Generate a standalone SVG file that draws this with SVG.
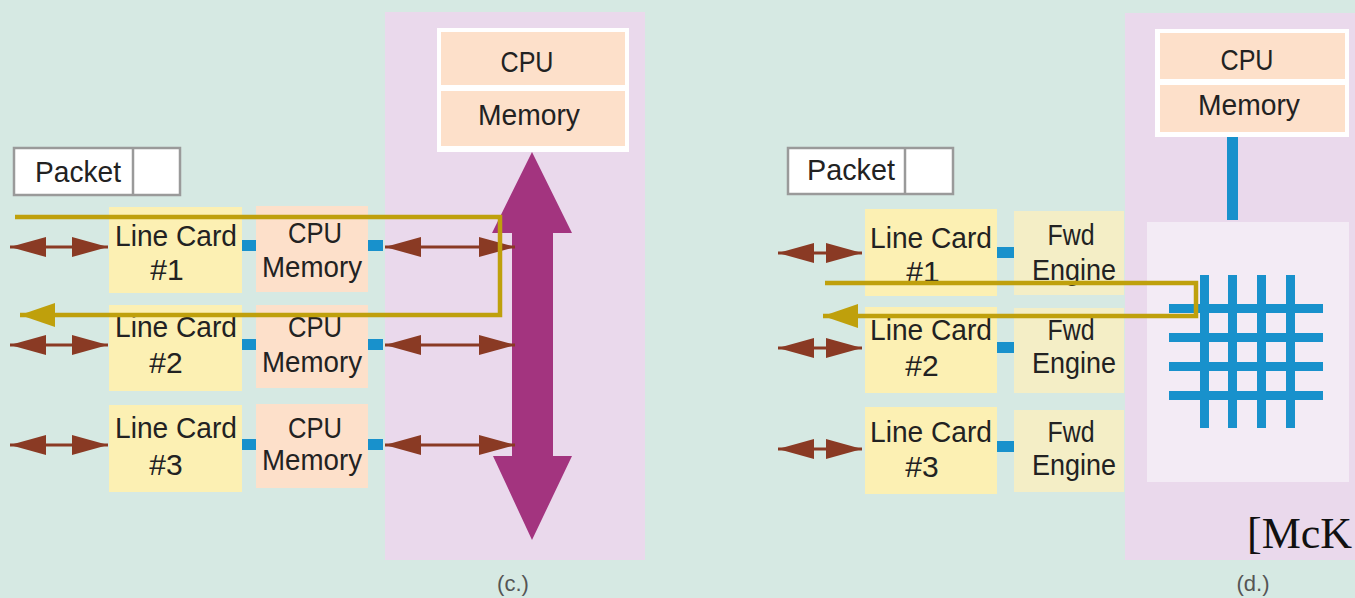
<svg xmlns="http://www.w3.org/2000/svg" width="1355" height="598" viewBox="0 0 1355 598">
  <style>
    .bg { fill: #d6e9e3; }
    .panel { fill: #ead9ec; }
    .fabric { fill: #f3ebf5; }
    .cpuframe { fill: #ffffff; }
    .peach { fill: #fde0ca; }
    .card { fill: #fcf0b3; }
    .fwd { fill: #f4eec6; }
    .port { fill: #1891cc; }
    .pkt { fill: #ffffff; stroke: #9a9a9a; stroke-width: 2.5; }
    .lbl { font-family: "Liberation Sans", Arial, sans-serif; font-size: 30px; fill: #222; text-anchor: middle; }
    .cap { font-family: "Liberation Sans", Arial, sans-serif; font-size: 22px; fill: #555; text-anchor: middle; }
    .cite { font-family: "Liberation Serif", "Times New Roman", serif; font-size: 44px; fill: #111; }
    .io { stroke: #8a3a24; stroke-width: 3; fill: none; marker-start: url(#brownHead); marker-end: url(#brownHead); }
    .path { stroke: #bfa00c; stroke-width: 4.5; fill: none; stroke-linejoin: miter; marker-end: url(#goldHead); }
    .xbar { fill: #1891cc; }
  </style>
  <defs>
    <marker id="brownHead" viewBox="0 0 36 20" refX="36" refY="10" markerWidth="36" markerHeight="20" markerUnits="userSpaceOnUse" orient="auto-start-reverse">
      <path d="M0,0 L36,10 L0,20 Z" fill="#8a3a24"/>
    </marker>
    <marker id="goldHead" viewBox="0 0 35 24" refX="35" refY="12" markerWidth="35" markerHeight="24" markerUnits="userSpaceOnUse" orient="auto">
      <path d="M0,0 L35,12 L0,24 Z" fill="#bfa00c"/>
    </marker>
  </defs>

  <rect class="bg" x="0" y="0" width="1355" height="598"/>

  <!-- ===== (c.) shared-bus router ===== -->
  <g id="bus-panel">
    <rect class="panel" x="385" y="12" width="260" height="548"/>
  </g>

  <g id="central-cpu-c">
    <rect class="cpuframe" x="437" y="28" width="192" height="124"/>
    <rect class="peach" x="441" y="32" width="184" height="53"/>
    <rect class="peach" x="441" y="91" width="184" height="55"/>
    <text class="lbl" x="527" y="72" textLength="53" lengthAdjust="spacingAndGlyphs">CPU</text>
    <text class="lbl" x="529" y="125" textLength="102" lengthAdjust="spacingAndGlyphs">Memory</text>
  </g>

  <g id="bus-c">
    <polygon fill="#a3347f" points="532,152 572,233 553,233 553,456 572,456 532,540 493,456 512,456 512,233 492,233"/>
  </g>

  <g id="packet-c">
    <rect class="pkt" x="14" y="148" width="166" height="47"/>
    <line x1="133" y1="148" x2="133" y2="195" stroke="#9a9a9a" stroke-width="2.5"/>
    <text class="lbl" x="78" y="182" textLength="86" lengthAdjust="spacingAndGlyphs">Packet</text>
  </g>

  <g id="linecard-c1">
    <rect class="card" x="109" y="207" width="133" height="86"/>
    <text class="lbl" x="176" y="246" textLength="122" lengthAdjust="spacingAndGlyphs">Line Card</text>
    <text class="lbl" x="167" y="280">#1</text>
  </g>
  <g id="linecard-c2">
    <rect class="card" x="109" y="305" width="133" height="86"/>
    <text class="lbl" x="176" y="337" textLength="122" lengthAdjust="spacingAndGlyphs">Line Card</text>
    <text class="lbl" x="166" y="373">#2</text>
  </g>
  <g id="linecard-c3">
    <rect class="card" x="109" y="405" width="133" height="87"/>
    <text class="lbl" x="176" y="438" textLength="122" lengthAdjust="spacingAndGlyphs">Line Card</text>
    <text class="lbl" x="166" y="475">#3</text>
  </g>

  <g id="cpumem-c1">
    <rect class="peach" x="256" y="206" width="112" height="86"/>
    <text class="lbl" x="315" y="243" textLength="54" lengthAdjust="spacingAndGlyphs">CPU</text>
    <text class="lbl" x="312" y="277" textLength="100" lengthAdjust="spacingAndGlyphs">Memory</text>
  </g>
  <g id="cpumem-c2">
    <rect class="peach" x="256" y="305" width="112" height="83"/>
    <text class="lbl" x="315" y="337" textLength="54" lengthAdjust="spacingAndGlyphs">CPU</text>
    <text class="lbl" x="312" y="372" textLength="100" lengthAdjust="spacingAndGlyphs">Memory</text>
  </g>
  <g id="cpumem-c3">
    <rect class="peach" x="256" y="404" width="112" height="84"/>
    <text class="lbl" x="315" y="438" textLength="54" lengthAdjust="spacingAndGlyphs">CPU</text>
    <text class="lbl" x="312" y="470" textLength="100" lengthAdjust="spacingAndGlyphs">Memory</text>
  </g>

  <g id="ports-c">
    <rect class="port" x="242" y="240" width="14" height="11"/>
    <rect class="port" x="368" y="240" width="15" height="11"/>
    <rect class="port" x="242" y="339" width="14" height="11"/>
    <rect class="port" x="368" y="339" width="15" height="11"/>
    <rect class="port" x="242" y="439" width="14" height="11"/>
    <rect class="port" x="368" y="439" width="15" height="11"/>
  </g>

  <text class="cap" x="513" y="591">(c.)</text>

  <!-- ===== (d.) switched-fabric router ===== -->
  <g id="fabric-panel">
    <rect class="panel" x="1125" y="13" width="235" height="547"/>
  </g>

  <g id="central-cpu-d">
    <rect class="cpuframe" x="1155" y="29" width="194" height="108"/>
    <rect class="peach" x="1160" y="33" width="185" height="46"/>
    <rect class="peach" x="1160" y="85" width="185" height="47"/>
    <text class="lbl" x="1247" y="70" textLength="53" lengthAdjust="spacingAndGlyphs">CPU</text>
    <text class="lbl" x="1249" y="115" textLength="102" lengthAdjust="spacingAndGlyphs">Memory</text>
  </g>

  <g id="crossbar-d">
    <rect class="fabric" x="1147" y="222" width="202" height="260"/>
    <rect class="xbar" x="1227" y="137" width="11" height="83"/>
    <rect class="xbar" x="1200" y="275" width="9" height="153"/>
    <rect class="xbar" x="1228" y="275" width="9" height="153"/>
    <rect class="xbar" x="1257" y="275" width="9" height="153"/>
    <rect class="xbar" x="1286" y="275" width="9" height="153"/>
    <rect class="xbar" x="1169" y="304" width="154" height="9"/>
    <rect class="xbar" x="1169" y="333" width="154" height="9"/>
    <rect class="xbar" x="1169" y="362" width="154" height="9"/>
    <rect class="xbar" x="1169" y="391" width="154" height="9"/>
  </g>

  <g id="packet-d">
    <rect class="pkt" x="788" y="148" width="165" height="46"/>
    <line x1="905" y1="148" x2="905" y2="194" stroke="#9a9a9a" stroke-width="2.5"/>
    <text class="lbl" x="851" y="180" textLength="88" lengthAdjust="spacingAndGlyphs">Packet</text>
  </g>

  <g id="linecard-d1">
    <rect class="card" x="865" y="209" width="132" height="87"/>
    <text class="lbl" x="931" y="248" textLength="122" lengthAdjust="spacingAndGlyphs">Line Card</text>
    <text class="lbl" x="923" y="282">#1</text>
  </g>
  <g id="linecard-d2">
    <rect class="card" x="865" y="307" width="132" height="86"/>
    <text class="lbl" x="931" y="340" textLength="122" lengthAdjust="spacingAndGlyphs">Line Card</text>
    <text class="lbl" x="922" y="376">#2</text>
  </g>
  <g id="linecard-d3">
    <rect class="card" x="865" y="407" width="132" height="87"/>
    <text class="lbl" x="931" y="442" textLength="122" lengthAdjust="spacingAndGlyphs">Line Card</text>
    <text class="lbl" x="922" y="477">#3</text>
  </g>

  <g id="fwd-d1">
    <rect class="fwd" x="1014" y="211" width="110" height="84"/>
    <text class="lbl" x="1071" y="245" textLength="47" lengthAdjust="spacingAndGlyphs">Fwd</text>
    <text class="lbl" x="1074" y="280" textLength="84" lengthAdjust="spacingAndGlyphs">Engine</text>
  </g>
  <g id="fwd-d2">
    <rect class="fwd" x="1014" y="308" width="110" height="85"/>
    <text class="lbl" x="1071" y="340" textLength="47" lengthAdjust="spacingAndGlyphs">Fwd</text>
    <text class="lbl" x="1074" y="373" textLength="84" lengthAdjust="spacingAndGlyphs">Engine</text>
  </g>
  <g id="fwd-d3">
    <rect class="fwd" x="1014" y="410" width="110" height="82"/>
    <text class="lbl" x="1071" y="442" textLength="47" lengthAdjust="spacingAndGlyphs">Fwd</text>
    <text class="lbl" x="1074" y="475" textLength="84" lengthAdjust="spacingAndGlyphs">Engine</text>
  </g>

  <g id="ports-d">
    <rect class="port" x="997" y="247" width="17" height="11"/>
    <rect class="port" x="997" y="342" width="17" height="11"/>
    <rect class="port" x="997" y="441" width="17" height="11"/>
  </g>

  <text class="cap" x="1253" y="591">(d.)</text>
  <text class="cite" x="1247" y="548">[McK</text>

  <!-- connectors: external links, bus links and packet paths -->
  <g id="connectors">
    <line class="io" x1="10" y1="247" x2="108" y2="247"/>
    <line class="io" x1="10" y1="345" x2="108" y2="345"/>
    <line class="io" x1="10" y1="445" x2="108" y2="445"/>
    <line class="io" x1="385" y1="247" x2="515" y2="247"/>
    <line class="io" x1="385" y1="345" x2="515" y2="345"/>
    <line class="io" x1="385" y1="445" x2="515" y2="445"/>
    <line class="io" x1="778" y1="253" x2="862" y2="253"/>
    <line class="io" x1="778" y1="348" x2="862" y2="348"/>
    <line class="io" x1="778" y1="449" x2="862" y2="449"/>
    <path class="path" d="M15,217 H500 V315 H20"/>
    <path class="path" d="M825,283 H1196 V316 H823"/>
  </g>
</svg>
